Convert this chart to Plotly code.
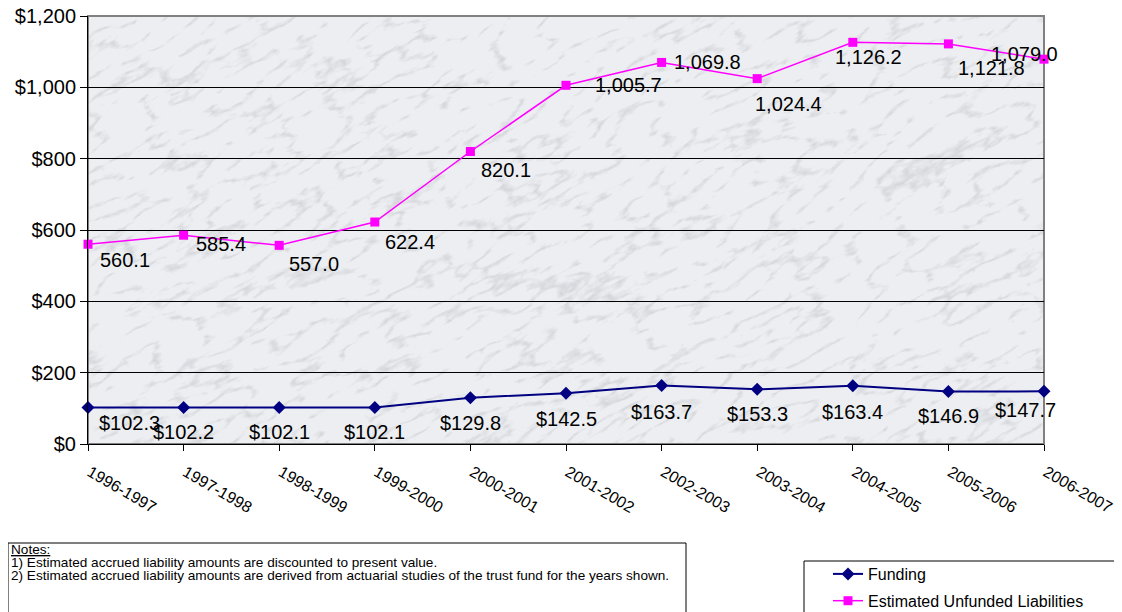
import urllib.parse

import plotly.graph_objects as go

years = ["1996-1997", "1997-1998", "1998-1999", "1999-2000", "2000-2001",
         "2001-2002", "2002-2003", "2003-2004", "2004-2005", "2005-2006",
         "2006-2007"]
funding = [102.3, 102.2, 102.1, 102.1, 129.8, 142.5, 163.7, 153.3, 163.4, 146.9, 147.7]
unfunded = [560.1, 585.4, 557.0, 622.4, 820.1, 1005.7, 1069.8, 1024.4, 1126.2, 1121.8, 1079.0]

notes = [
    "<u>Notes:</u>",
    "1) Estimated accrued liability amounts are discounted to present value.",
    "2) Estimated accrued liability amounts are derived from actuarial studies "
    "of the trust fund for the years shown.",
]

# label offsets (px) copied from the spreadsheet chart
funding_shift = [(41, 15), (0, 24), (0, 24), (0, 24), (0, 25), (0, 26),
                 (0, 26), (0, 25), (0, 26), (0, 24), (-19, 19)]
unfunded_shift = [(37, 16), (37, 9), (35, 19), (35, 20), (36, 18), (62, 0),
                  (46, 0), (31, 25), (16, 15), (43, 24), (-20, -5)]

FONT = "Arial, Liberation Sans, sans-serif"
OFF = 8  # page body margin
W, H = 1122 - OFF, 612 - OFF
PL, PT, PW, PH = 88, 16, 956, 428   # plot area on screen
L, T = PL - OFF, PT - OFF
R, B = W - L - PW, H - T - PH


def px_x(p):
    return (p - PL) / PW


def px_y(p):
    return (PT + PH - p) / PH


# marble-ish backdrop for the plot area
svg = f"""<svg xmlns='http://www.w3.org/2000/svg' width='{PW}' height='{PH}'>
<filter id='m' x='0' y='0' width='100%' height='100%'>
<feTurbulence type='turbulence' baseFrequency='0.018 0.05' numOctaves='5' seed='7'/>
<feColorMatrix type='matrix' values='0 0 0 0 0.50  0 0 0 0 0.51  0 0 0 0 0.55  -2.6 0 0 0 0.6'/>
</filter>
<rect width='100%' height='100%' fill='#eceef1'/>
<g transform='rotate(-28 {PW / 2} {PH / 2})'>
<rect x='-400' y='-500' width='{PW + 800}' height='{PH + 1000}' filter='url(#m)'/>
</g>
</svg>"""
bg_src = "data:image/svg+xml;utf8," + urllib.parse.quote(svg)

fig = go.Figure()
fig.add_trace(go.Scatter(
    x=years, y=funding, name="Funding", mode="lines+markers", legendgroup="f",
    line=dict(color="#000080", width=2),
    marker=dict(symbol="diamond", size=10, color="#000080"),
    cliponaxis=False, hoverinfo="skip"))
fig.add_trace(go.Scatter(
    x=years, y=unfunded, name="Estimated Unfunded Liabilities", mode="lines+markers",
    legendgroup="u",
    line=dict(color="#FF00FF", width=1.5),
    marker=dict(symbol="square", size=9, color="#FF00FF"),
    cliponaxis=False, hoverinfo="skip"))

annotations = []
for yr, v, (dx, dy) in zip(years, funding, funding_shift):
    annotations.append(dict(x=yr, y=v, text=f"${v:,.1f}", showarrow=False,
                            xshift=dx, yshift=-dy,
                            font=dict(family=FONT, size=20, color="black")))
for yr, v, (dx, dy) in zip(years, unfunded, unfunded_shift):
    annotations.append(dict(x=yr, y=v, text=f"{v:,.1f}", showarrow=False,
                            xshift=dx, yshift=-dy,
                            font=dict(family=FONT, size=20, color="black")))

for i, line in enumerate(notes):
    annotations.append(dict(xref="paper", yref="paper", x=px_x(9), y=px_y(549 + 13 * i),
                            xanchor="left", yanchor="middle", text=line,
                            showarrow=False,
                            font=dict(family=FONT, size=13.6, color="black")))

shapes = [
    # plot border (top/right grey)
    dict(type="rect", xref="paper", yref="paper", x0=0, x1=1, y0=0, y1=1,
         line=dict(color="#808080", width=2), layer="below"),
    # notes box
    dict(type="rect", xref="paper", yref="paper",
         x0=px_x(OFF), x1=px_x(686), y0=px_y(543), y1=px_y(620),
         line=dict(color="black", width=1)),
    # legend box
    dict(type="rect", xref="paper", yref="paper",
         x0=px_x(804), x1=px_x(1130), y0=px_y(561), y1=px_y(620),
         line=dict(color="black", width=1)),
]

fig.update_layout(
    width=W, height=H,
    margin=dict(l=L, r=R, t=T, b=B, pad=0, autoexpand=False),
    paper_bgcolor="white",
    plot_bgcolor="#eceef1",
    font=dict(family=FONT, color="black"),
    showlegend=True,
    legend=dict(x=px_x(828), y=px_y(557), xanchor="left", yanchor="top",
                font=dict(family=FONT, size=16, color="black"),
                bgcolor="rgba(0,0,0,0)", borderwidth=0, tracegroupgap=3),
    annotations=annotations,
    shapes=shapes,
    images=[dict(source=bg_src, xref="paper", yref="paper", x=0, y=1,
                 sizex=1, sizey=1, sizing="stretch", layer="below")],
    xaxis=dict(type="category", categoryorder="array", categoryarray=years,
               range=[0, len(years) - 1], showgrid=False, zeroline=False,
               showline=True, linecolor="black", linewidth=1, automargin=False,
               ticks="outside", ticklen=6, tickcolor="black", tickangle=30,
               ticklabelstandoff=6, ticklabelshift=2, ticklabeloverflow="allow",
               tickfont=dict(family=FONT, size=16, color="black")),
    yaxis=dict(range=[0, 1200], dtick=200, tickprefix="$", tickformat=",",
               showgrid=True, gridcolor="black", gridwidth=1, zeroline=False,
               showline=True, linecolor="black", linewidth=1, automargin=False,
               ticks="outside", ticklen=7, tickcolor="black",
               ticklabeloverflow="allow",
               tickfont=dict(family=FONT, size=20, color="black")),
)

fig.write_html("out.html")
